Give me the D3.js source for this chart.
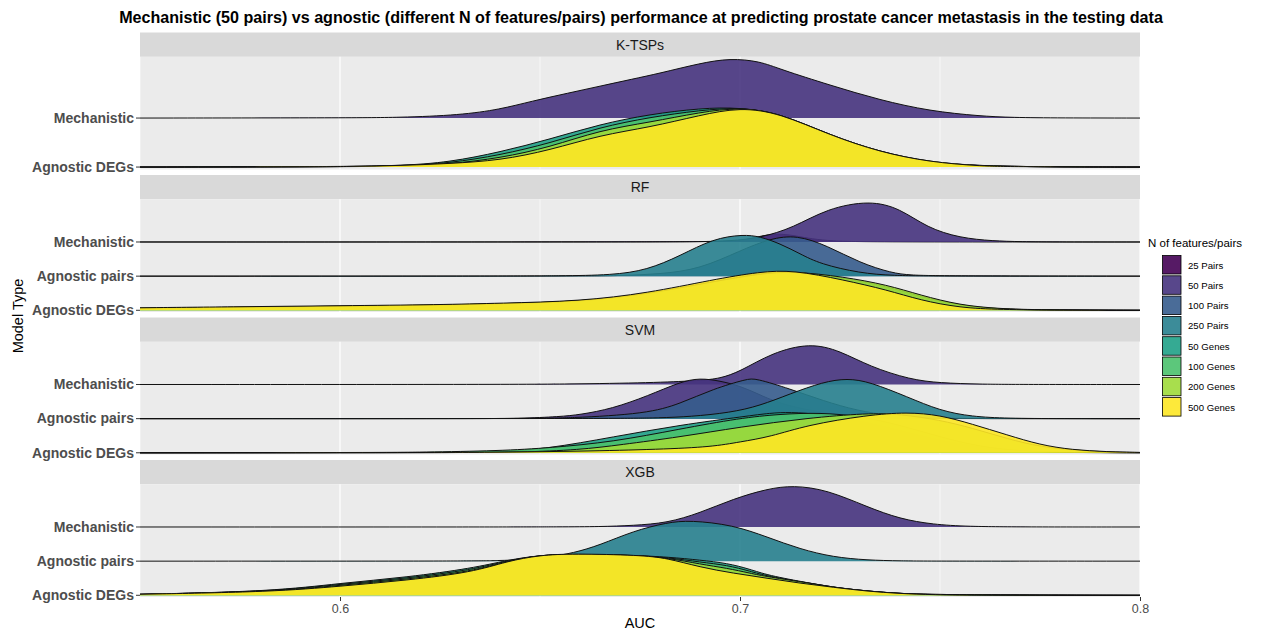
<!DOCTYPE html>
<html>
<head>
<meta charset="utf-8">
<script src="https://cdn.jsdelivr.net/npm/d3@7"></script>
<style>
    body { margin: 0; background: #ffffff; }
    svg { font-family: "Liberation Sans", Arial, sans-serif; }
</style>
</head>
<body>
<svg id="chart" width="1283" height="637"></svg>
<script>

// ---- data (AUC, density height) ----

var facetNames = ["K-TSPs", "RF", "SVM", "XGB"];

var rowsKTSP = ["Agnostic DEGs", "Mechanistic"];
var rowsFull = ["Agnostic DEGs", "Agnostic pairs", "Mechanistic"];

var featureLevels = ["25 Pairs", "50 Pairs", "100 Pairs", "250 Pairs", "50 Genes", "100 Genes", "200 Genes", "500 Genes"];

var featureColors = ["#440154", "#46337E", "#365C8D", "#277F8E", "#1FA187", "#4AC16D", "#9FDA3A", "#FDE725"];

var xMajor = [0.6, 0.7, 0.8];
var xMinor = [0.55, 0.65, 0.75];

// K-TSPs
var ktspMech50Pairs = [[0.55,0],[0.60,0.2],[0.615,0.5],[0.63,3],[0.64,8.7],[0.648,17],[0.657,25],[0.665,32],[0.673,39],[0.68,45],[0.69,55],[0.6975,60],[0.705,57],[0.71,49],[0.7225,33],[0.735,18],[0.7475,7],[0.76,2],[0.768,0.5],[0.78,0.1],[0.80,0]];
var ktspDegs50Genes = [[0.55,0],[0.59,0.3],[0.615,1],[0.6275,5],[0.64,15],[0.6525,28],[0.665,43],[0.6775,53],[0.69,59],[0.70,60],[0.71,53],[0.7225,31],[0.735,14],[0.7475,4],[0.76,1],[0.78,0.1],[0.80,0]];
var ktspDegs100Genes = [[0.55,0],[0.59,0.2],[0.615,0.8],[0.6275,4],[0.64,12],[0.6525,24],[0.665,40],[0.6775,50],[0.69,57],[0.70,60],[0.71,54],[0.7225,32],[0.735,15],[0.7475,4.5],[0.76,1],[0.78,0.1],[0.80,0]];
var ktspDegs200Genes = [[0.55,0],[0.59,0.2],[0.615,0.6],[0.6275,3],[0.64,9],[0.6525,20],[0.665,37],[0.6775,45],[0.69,55],[0.70,60],[0.71,54],[0.7225,32],[0.735,15],[0.7475,5],[0.76,1],[0.78,0.1],[0.80,0]];
var ktspDegs500Genes = [[0.55,0],[0.59,0.2],[0.6025,0.5],[0.615,1.5],[0.6275,3.5],[0.64,6.7],[0.6525,17],[0.665,32],[0.6775,40],[0.69,52],[0.70,60],[0.71,54],[0.7225,32],[0.735,15],[0.7475,5],[0.76,1],[0.768,0.3],[0.80,0]];

// RF
var rfMech25Pairs = [[0.55,0],[0.695,0],[0.70,1],[0.7035,4],[0.707,7.5],[0.7105,8],[0.714,6],[0.718,3],[0.723,1],[0.73,0],[0.80,0]];
var rfMech50Pairs = [[0.55,0],[0.68,0],[0.69,0.3],[0.6975,1],[0.705,4],[0.7133,14],[0.7218,33],[0.7325,41],[0.74,33],[0.7468,14],[0.755,4],[0.7633,1],[0.77,0.3],[0.78,0],[0.80,0]];
var rfPairs100Pairs = [[0.55,0],[0.66,0],[0.67,0.5],[0.68,2],[0.69,7],[0.70,25],[0.7075,37],[0.7142,40.5],[0.7218,30],[0.73,13],[0.738,3],[0.7425,1],[0.75,0.2],[0.80,0]];
var rfPairs250Pairs = [[0.55,0],[0.64,0],[0.655,0.3],[0.668,1],[0.6768,6],[0.685,20],[0.6933,37],[0.7008,41],[0.705,39],[0.71,32],[0.715,22],[0.72,12],[0.73,3],[0.738,0.5],[0.75,0],[0.80,0]];
var rfDegs50Genes = [[0.55,1.5],[0.575,2.5],[0.60,3.5],[0.625,4.5],[0.64,6],[0.66,8],[0.677,15],[0.693,27],[0.705,35],[0.7133,38],[0.7258,31],[0.7368,22],[0.745,12.5],[0.755,4],[0.765,1],[0.775,0.3],[0.80,0]];
var rfDegs100Genes = [[0.55,2],[0.575,3],[0.60,4],[0.625,5],[0.64,6.5],[0.66,8.5],[0.677,16],[0.693,28],[0.705,36],[0.7133,38.5],[0.7258,32],[0.7368,23.5],[0.745,13.5],[0.755,4.5],[0.765,1.2],[0.775,0.3],[0.80,0]];
var rfDegs200Genes = [[0.55,2],[0.575,3],[0.60,4],[0.625,5],[0.64,6.5],[0.66,8.5],[0.677,16],[0.693,28],[0.705,36],[0.7133,38.5],[0.7258,33],[0.7368,25],[0.745,15],[0.755,5],[0.765,1.5],[0.775,0.4],[0.80,0]];
var rfDegs500Genes = [[0.55,2.5],[0.575,3.5],[0.60,4.5],[0.625,5.5],[0.64,7],[0.66,9],[0.677,17],[0.693,30],[0.705,38],[0.7133,39.5],[0.7258,30],[0.7368,20],[0.745,10],[0.755,2.5],[0.765,0.7],[0.78,0.1],[0.80,0]];

// SVM
var svmMech50Pairs = [[0.55,0],[0.64,0],[0.66,0.5],[0.68,2],[0.69,4],[0.695,6],[0.70,13],[0.708,32],[0.7175,42],[0.725,34],[0.7325,18],[0.7425,5],[0.75,1.5],[0.76,0.3],[0.77,0],[0.80,0]];
var svmPairs50Pairs = [[0.55,0],[0.635,0],[0.645,0.2],[0.655,2],[0.66,4],[0.668,10],[0.677,23],[0.685,37],[0.69,41],[0.695,38],[0.70,33],[0.705,24],[0.71,15],[0.72,6],[0.73,2],[0.74,0.5],[0.75,0],[0.80,0]];
var svmPairs100Pairs = [[0.55,0],[0.645,0],[0.6575,0.5],[0.6768,5],[0.685,15],[0.6933,30],[0.7018,40],[0.7038,40.7],[0.7125,30],[0.7208,18],[0.7293,8],[0.7375,3],[0.745,1],[0.755,0.2],[0.765,0],[0.80,0]];
var svmPairs250Pairs = [[0.55,0],[0.67,0],[0.68,0.8],[0.6875,2],[0.6975,6],[0.705,13],[0.7125,25],[0.7208,37],[0.7268,40.7],[0.7325,37],[0.7418,22],[0.75,8],[0.758,2],[0.7668,0.3],[0.78,0],[0.80,0]];
var svmDegs50Genes = [[0.55,0],[0.625,0],[0.639,0.5],[0.6518,4],[0.6683,16],[0.685,28],[0.7018,37],[0.7075,40],[0.7125,41],[0.72,39],[0.73,32],[0.74,22],[0.75,12],[0.76,5],[0.77,1.5],[0.78,0.3],[0.80,0]];
var svmDegs100Genes = [[0.55,0],[0.61,0.3],[0.62,0.6],[0.64,2],[0.6525,5],[0.6683,11],[0.685,24],[0.70,35],[0.71,39],[0.72,40.5],[0.73,37],[0.74,28],[0.75,16],[0.76,6],[0.77,2],[0.78,0.5],[0.80,0]];
var svmDegs200Genes = [[0.55,0],[0.63,0.2],[0.645,0.5],[0.66,3],[0.67,8],[0.685,16],[0.70,26],[0.7168,35],[0.7318,40],[0.74,39],[0.75,33],[0.758,25],[0.767,14],[0.775,6],[0.785,2],[0.795,0.5],[0.80,0.3]];
var svmDegs500Genes = [[0.55,0],[0.62,0.2],[0.64,0.6],[0.66,1.5],[0.68,3.5],[0.693,6],[0.70,11],[0.7075,16],[0.7168,28],[0.7318,38],[0.7418,41],[0.75,38],[0.758,29],[0.7668,18],[0.775,8],[0.783,3],[0.7918,1],[0.80,0.4]];

// XGB
var xgbMech50Pairs = [[0.55,0],[0.64,0],[0.655,0.1],[0.665,0.3],[0.6733,1.5],[0.6818,4],[0.69,14],[0.6983,28],[0.7068,38],[0.7133,41.5],[0.7218,37],[0.7318,20],[0.74,8],[0.7483,2.5],[0.7568,0.5],[0.77,0],[0.80,0]];
var xgbPairs250Pairs = [[0.55,0],[0.63,0],[0.64,0.5],[0.6458,1.5],[0.652,4],[0.6583,8],[0.665,16],[0.6733,30],[0.6818,38.5],[0.6875,40.7],[0.6983,36],[0.7068,24],[0.715,12],[0.7233,4],[0.7318,1],[0.74,0.2],[0.75,0],[0.80,0]];
var xgbDegs50Genes = [[0.55,1],[0.5833,4],[0.60,12],[0.6168,18],[0.6332,27],[0.6418,35],[0.65,40],[0.6582,41],[0.6725,40],[0.6825,38],[0.69,35],[0.6968,32],[0.7025,26],[0.7068,20],[0.7175,12],[0.725,7],[0.7325,4],[0.74,1.7],[0.75,0.5],[0.76,0.1],[0.80,0]];
var xgbDegs100Genes = [[0.55,1],[0.5833,3.8],[0.60,11],[0.6168,17],[0.6332,25.5],[0.6418,34.5],[0.65,40],[0.6582,41],[0.6725,40],[0.6825,37.5],[0.69,33],[0.6968,30],[0.7025,24],[0.7068,19],[0.7175,12],[0.725,7],[0.7325,4],[0.74,1.7],[0.75,0.5],[0.80,0]];
var xgbDegs200Genes = [[0.55,1],[0.5833,3.6],[0.60,10],[0.6168,16],[0.6332,24],[0.6418,34],[0.65,40],[0.6582,41],[0.6725,40],[0.6825,37],[0.69,31],[0.6968,27],[0.7025,22],[0.7068,18.5],[0.7175,12],[0.725,7],[0.7325,4],[0.74,1.7],[0.75,0.5],[0.80,0]];
var xgbDegs500Genes = [[0.55,1],[0.5833,3.5],[0.60,9],[0.6168,15],[0.6332,23],[0.6418,34],[0.65,40],[0.6582,41.5],[0.675,40],[0.6818,37],[0.69,28],[0.6983,22],[0.7068,17],[0.715,12],[0.7233,8],[0.7318,4],[0.74,1.7],[0.7483,0.5],[0.76,0.1],[0.80,0]];

// ridges: facet, row, feature level, points
var ridges = [
    ["K-TSPs", "Mechanistic", "50 Pairs", ktspMech50Pairs],
    ["K-TSPs", "Agnostic DEGs", "50 Genes", ktspDegs50Genes],
    ["K-TSPs", "Agnostic DEGs", "100 Genes", ktspDegs100Genes],
    ["K-TSPs", "Agnostic DEGs", "200 Genes", ktspDegs200Genes],
    ["K-TSPs", "Agnostic DEGs", "500 Genes", ktspDegs500Genes],
    ["RF", "Mechanistic", "25 Pairs", rfMech25Pairs],
    ["RF", "Mechanistic", "50 Pairs", rfMech50Pairs],
    ["RF", "Agnostic pairs", "100 Pairs", rfPairs100Pairs],
    ["RF", "Agnostic pairs", "250 Pairs", rfPairs250Pairs],
    ["RF", "Agnostic DEGs", "50 Genes", rfDegs50Genes],
    ["RF", "Agnostic DEGs", "100 Genes", rfDegs100Genes],
    ["RF", "Agnostic DEGs", "200 Genes", rfDegs200Genes],
    ["RF", "Agnostic DEGs", "500 Genes", rfDegs500Genes],
    ["SVM", "Mechanistic", "50 Pairs", svmMech50Pairs],
    ["SVM", "Agnostic pairs", "50 Pairs", svmPairs50Pairs],
    ["SVM", "Agnostic pairs", "100 Pairs", svmPairs100Pairs],
    ["SVM", "Agnostic pairs", "250 Pairs", svmPairs250Pairs],
    ["SVM", "Agnostic DEGs", "50 Genes", svmDegs50Genes],
    ["SVM", "Agnostic DEGs", "100 Genes", svmDegs100Genes],
    ["SVM", "Agnostic DEGs", "200 Genes", svmDegs200Genes],
    ["SVM", "Agnostic DEGs", "500 Genes", svmDegs500Genes],
    ["XGB", "Mechanistic", "50 Pairs", xgbMech50Pairs],
    ["XGB", "Agnostic pairs", "250 Pairs", xgbPairs250Pairs],
    ["XGB", "Agnostic DEGs", "50 Genes", xgbDegs50Genes],
    ["XGB", "Agnostic DEGs", "100 Genes", xgbDegs100Genes],
    ["XGB", "Agnostic DEGs", "200 Genes", xgbDegs200Genes],
    ["XGB", "Agnostic DEGs", "500 Genes", xgbDegs500Genes]
];

// ---- layout ----

var panelLeft = 140;
var panelRight = 1140;
var firstStripTop = 32.5;
var stripHeight = 24.3;
var panelHeight = 112.7;
var panelGap = 5.5;
var ridgeScale = 1.22;

var svg = d3.select('#chart');

var x = d3.scaleLinear().domain([0.55, 0.80]).range([panelLeft, panelRight]);

var color = d3.scaleOrdinal().domain(featureLevels).range(featureColors);

svg.append('text')
    .attr('x', 641)
    .attr('y', 23)
    .attr('text-anchor', 'middle')
    .attr('font-size', '16.1px')
    .attr('font-weight', 'bold')
    .attr('fill', '#000')
    .text('Mechanistic (50 pairs) vs agnostic (different N of features/pairs) performance at predicting prostate cancer metastasis in the testing data');

facetNames.forEach(function(facet, i){

    let stripTop = firstStripTop + i * (stripHeight + panelHeight + panelGap);
    let top = stripTop + stripHeight;
    let bottom = top + panelHeight;
    let rows = facet == "K-TSPs" ? rowsKTSP : rowsFull;

    // row position: 1 = bottom row
    let y = d3.scaleLinear().domain([0.95, rows.length + 1.25]).range([bottom, top]);

    let facetRidges = ridges.filter(r => r[0] == facet);
    let maxDensity = d3.max(facetRidges, r => d3.max(r[3], p => p[1]));

    let g = svg.append('g').attr('class', 'facet');

    // strip
    g.append('rect')
        .attr('x', panelLeft)
        .attr('y', stripTop)
        .attr('width', panelRight - panelLeft)
        .attr('height', stripHeight)
        .attr('fill', '#D9D9D9');

    g.append('text')
        .attr('x', (panelLeft + panelRight) / 2)
        .attr('y', stripTop + stripHeight / 2 + 5)
        .attr('text-anchor', 'middle')
        .attr('font-size', '14px')
        .attr('fill', '#1A1A1A')
        .text(facet);

    // panel background and grid
    g.append('rect')
        .attr('x', panelLeft)
        .attr('y', top)
        .attr('width', panelRight - panelLeft)
        .attr('height', panelHeight)
        .attr('fill', '#EBEBEB');

    g.selectAll('.minor')
        .data(xMinor)
        .enter()
        .append('line')
        .attr('x1', d => x(d))
        .attr('x2', d => x(d))
        .attr('y1', top)
        .attr('y2', bottom)
        .attr('stroke', '#ffffff')
        .attr('stroke-width', 0.6);

    g.selectAll('.major')
        .data(xMajor)
        .enter()
        .append('line')
        .attr('x1', d => x(d))
        .attr('x2', d => x(d))
        .attr('y1', top)
        .attr('y2', bottom)
        .attr('stroke', '#ffffff')
        .attr('stroke-width', 1.2);

    let clipId = 'clip' + i;
    g.append('clipPath')
        .attr('id', clipId)
        .append('rect')
        .attr('x', panelLeft)
        .attr('y', top)
        .attr('width', panelRight - panelLeft)
        .attr('height', panelHeight);

    let ridgeLayer = g.append('g').attr('clip-path', 'url(#' + clipId + ')');

    // top row drawn first, lower rows overlap it
    for(let r = rows.length; r >= 1; r--){

        let rowName = rows[r - 1];

        let rowRidges = facetRidges
            .filter(d => d[1] == rowName)
            .sort((a, b) => featureLevels.indexOf(a[2]) - featureLevels.indexOf(b[2]));

        let area = d3.area()
            .x(p => x(p[0]))
            .y0(y(r))
            .y1(p => y(r + p[1] / maxDensity * ridgeScale))
            .curve(d3.curveBasis);

        let line = d3.line()
            .x(p => x(p[0]))
            .y(p => y(r + p[1] / maxDensity * ridgeScale))
            .curve(d3.curveBasis);

        rowRidges.forEach(function(d){

            ridgeLayer.append('path')
                .attr('d', area(d[3]))
                .attr('fill', color(d[2]))
                .attr('fill-opacity', 0.9)
                .attr('stroke', 'none');

            ridgeLayer.append('path')
                .attr('d', line(d[3]))
                .attr('fill', 'none')
                .attr('stroke', '#111111')
                .attr('stroke-width', 1);
        });
    }

    // y axis ticks and labels
    rows.forEach(function(rowName, k){

        let yy = y(k + 1);

        g.append('line')
            .attr('x1', panelLeft - 4)
            .attr('x2', panelLeft)
            .attr('y1', yy)
            .attr('y2', yy)
            .attr('stroke', '#333333')
            .attr('stroke-width', 1);

        g.append('text')
            .attr('x', panelLeft - 6)
            .attr('y', yy + 4.8)
            .attr('text-anchor', 'end')
            .attr('font-size', '14px')
            .attr('font-weight', 'bold')
            .attr('fill', '#4D4D4D')
            .text(rowName);
    });

    // x axis on the last facet
    if(i == facetNames.length - 1){

        let axis = d3.axisBottom(x)
            .tickValues(xMajor)
            .tickSize(4)
            .tickPadding(3)
            .tickFormat(d3.format('.1f'));

        let ax = svg.append('g')
            .attr('transform', 'translate(0,' + bottom + ')')
            .call(axis);

        ax.select('.domain').remove();
        ax.selectAll('line').attr('stroke', '#333333');
        ax.selectAll('text')
            .attr('font-size', '12.5px')
            .attr('font-family', '"Liberation Sans", Arial, sans-serif')
            .attr('fill', '#4D4D4D');

        svg.append('text')
            .attr('x', (panelLeft + panelRight) / 2)
            .attr('y', bottom + 31)
            .attr('text-anchor', 'middle')
            .attr('font-size', '14.5px')
            .attr('fill', '#000')
            .text('AUC');
    }
});

svg.append('text')
    .attr('transform', 'translate(23,316) rotate(-90)')
    .attr('text-anchor', 'middle')
    .attr('font-size', '14.5px')
    .attr('fill', '#000')
    .text('Model Type');

// ---- legend ----

var legend = svg.append('g').attr('transform', 'translate(1148,0)');

legend.append('text')
    .attr('x', 0)
    .attr('y', 247)
    .attr('font-size', '11.5px')
    .attr('fill', '#000')
    .text('N of features/pairs');

var keys = legend.selectAll('.key')
    .data(featureLevels)
    .enter()
    .append('g')
    .attr('transform', (d, i) => 'translate(14,' + (255 + i * 20.3) + ')');

keys.append('rect')
    .attr('x', 0.5)
    .attr('y', 0.5)
    .attr('width', 18.5)
    .attr('height', 18.5)
    .attr('fill', d => color(d))
    .attr('fill-opacity', 0.9)
    .attr('stroke', '#000')
    .attr('stroke-width', 0.8);

keys.append('text')
    .attr('x', 26)
    .attr('y', 13.5)
    .attr('font-size', '9.6px')
    .attr('fill', '#000')
    .text(d => d);

</script>
</body>
</html>
